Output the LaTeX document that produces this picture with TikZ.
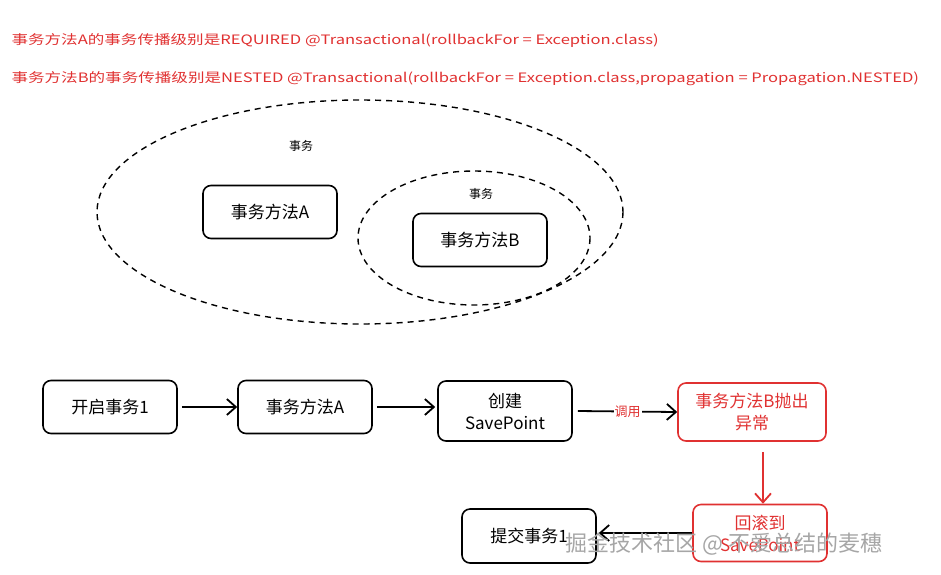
\documentclass[tikz,border=0pt]{standalone}
\usepackage{fontspec}
\setmainfont{Noto Sans CJK SC}
\usetikzlibrary{arrows.meta}
\definecolor{rd}{HTML}{E03131}
\begin{document}
\begin{tikzpicture}[x=1pt,y=-1pt,
  box/.style={draw,line width=1.6pt,rounded corners=8pt,minimum width=134pt,minimum height=53pt,align=center,font=\fontsize{17}{22}\selectfont},
  rbox/.style={box,draw=rd,text=rd},
  arr/.style={-{Straight Barb[length=9pt,width=16pt]},line width=1.8pt},
  ell/.style={draw,line width=1.4pt,dash pattern=on 6pt off 5pt},
  lab/.style={font=\fontsize{12}{14}\selectfont}]
\useasboundingbox (0,0) rectangle (941,574);
\node[anchor=west,text=rd,lab] (t1) at (8,40) {\scalebox{1.38}[1.08]{事务方法A的事务传播级别是REQUIRED @Transactional(rollbackFor = Exception.class)}};
\node[anchor=west,text=rd,lab] (t2) at (8,79) {\scalebox{1.38}[1.08]{事务方法B的事务传播级别是NESTED @Transactional(rollbackFor = Exception.class,propagation = Propagation.NESTED)}};
\draw[ell] (360,212) ellipse [x radius=263, y radius=112];
\draw[ell] (474,238) ellipse [x radius=116, y radius=67];
\node[lab] (s1) at (301,146) {事务};
\node[lab] (s2) at (481,194) {事务};
\node[box] (a) at (270,212) {事务方法A};
\node[box] (b) at (480,240) {事务方法B};
\node[box] (n1) at (110,407) {开启事务1};
\node[box] (n2) at (305,407) {事务方法A};
\node[box,minimum height=60pt] (n3) at (505,411) {创建\\SavePoint};
\node[rbox,minimum width=148pt,minimum height=58pt] (n4) at (752,412) {事务方法B抛出\\异常};
\node[rbox,minimum height=57pt] (n5) at (760,533) {回滚到\\SavePoint};
\node[box,minimum height=54pt] (n6) at (529,536) {提交事务1};
\coordinate (d1) at ([yshift=-10pt]n4.south -| 763,0);
\draw[arr] (n1.east) ++(4,0) -- (n2.west);
\draw[arr] (n2.east) ++(4,0) -- ([xshift=-2pt]n3.west |- n2.east);
\draw[arr] ([xshift=5pt]n3.east) -- node[fill=white,text=rd,font=\fontsize{13}{15}\selectfont,inner sep=1pt]{调用} (n4.west);
\draw[arr,draw=rd] (d1) -- (d1 |- n5.north);
\draw[arr] (n5.west) -- ([xshift=2pt]n6.east |- n5.west);
\node[text=gray!70,font=\fontsize{22}{24}\selectfont,anchor=west] (wm) at (562,544) {掘金技术社区 @ 不爱总结的麦穗};
\end{tikzpicture}
\end{document}
